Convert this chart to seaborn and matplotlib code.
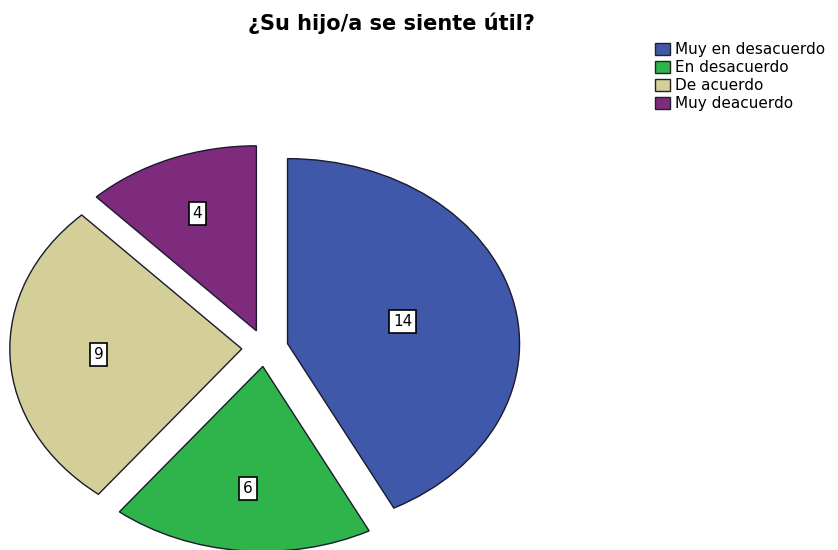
import numpy as np
import matplotlib
matplotlib.use("Agg")
import matplotlib.pyplot as plt
import matplotlib.patches as mpatches
import seaborn as sns

categories = ["Muy en desacuerdo", "En desacuerdo", "De acuerdo", "Muy deacuerdo"]
counts = [14, 6, 9, 4]
colors = ["#3F58A9", "#2FB44B", "#D4CE99", "#7E2A7D"]
title = "¿Su hijo/a se siente útil?"

sns.set_theme(style="white")
plt.rcParams['font.family'] = ['DejaVu Sans']
plt.rcParams['text.color'] = 'black'

fig = plt.figure(figsize=(8.38, 5.5), dpi=100)
W, H = 838, 550
cx, cy = 265, 348
rx, ry = 232, 185
xl, yl = 1.14, 1.1
ax = fig.add_axes([(cx - xl * rx) / W, (H - cy - yl * ry) / H, 2 * xl * rx / W, 2 * yl * ry / H])

explode = [0.1] * len(counts)
wedges, _ = ax.pie(counts, colors=colors, startangle=90, counterclock=False,
                   explode=explode,
                   wedgeprops=dict(edgecolor="#1a1a2e", linewidth=1.0))
for w in wedges:
    w.set_clip_on(False)
ax.set_aspect('auto')
ax.set_xlim(-xl, xl)
ax.set_ylim(-yl, yl)
ax.axis('off')

# labels at wedge centroids
for w, c in zip(wedges, counts):
    t1, t2 = np.deg2rad(w.theta1), np.deg2rad(w.theta2)
    a = (t2 - t1) / 2
    mid = (t1 + t2) / 2
    d = 1.05 * 2 * np.sin(a) / (3 * a) * w.r
    x = w.center[0] + d * np.cos(mid)
    y = w.center[1] + d * np.sin(mid)
    ax.text(x, y, str(c), ha='center', va='center', fontsize=11, color='black',
            bbox=dict(boxstyle='square,pad=0.25', fc='white', ec='black', lw=1.2))

fig.text(391 / W, 1 - 23 / H, title, ha='center', va='center', fontsize=15,
         fontweight='bold', color='black')

handles = [mpatches.Patch(facecolor=c, edgecolor='#222222', linewidth=1.0, label=l)
           for c, l in zip(colors, categories)]
leg = fig.legend(handles=handles, loc='upper left', bbox_to_anchor=(655 / W, 1 - 42 / H),
                 frameon=False, fontsize=11, handlelength=1.0, handleheight=0.85,
                 handletextpad=0.3, labelspacing=0.2, borderpad=0, borderaxespad=0,
                 labelcolor='black')

fig.savefig("out.png", dpi=100)
